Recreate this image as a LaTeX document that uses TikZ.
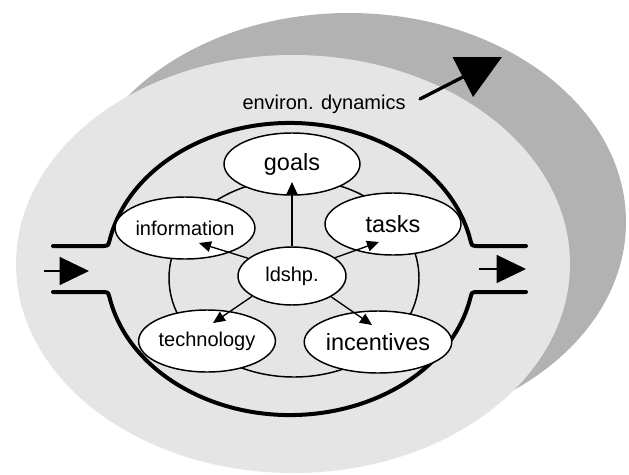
\documentclass[tikz,border=0pt]{standalone}
\usepackage{fontspec}
\setmainfont{Liberation Sans}
\usetikzlibrary{shapes.geometric,arrows.meta}

\tikzset{every picture/.style={line width=0.75pt}}
\definecolor{envlight}{RGB}{229,229,229}
\definecolor{envdark}{RGB}{178,178,178}

\begin{document}
\begin{tikzpicture}[x=0.75pt,y=0.75pt,yscale=-1,xscale=1,
  part/.style={draw,ellipse,fill=white,line width=1.1pt,inner sep=0pt,minimum width=102pt,minimum height=46.5pt,font=\fontsize{17.6}{20}\selectfont},
  smallpart/.style={part,font=\fontsize{15}{18}\selectfont},
  flow/.style={-{Triangle[length=9pt,width=8pt]},line width=1pt},
  pipeflow/.style={-{Triangle[length=22pt,width=21pt]},line width=1pt}
]
\useasboundingbox (0,0) rectangle (629,475);

%Shape: Ellipse [environment, shadow]
\fill [envdark] (349,222) ellipse [x radius=277, y radius=209];
%Shape: Ellipse [environment]
\fill [envlight] (293,264) ellipse [x radius=277, y radius=209];

%Shape: system boundary, upper half with pipes
\draw [line width=3pt, line cap=round] (53,246) -- (104,246) .. controls (108,246) and (109.4,244) .. (109.4,241.1) arc [start angle=191, end angle=349, x radius=184, y radius=146] .. controls (470.6,244) and (472,246) .. (476,246) -- (526,246);
%Shape: system boundary, lower half with pipes
\draw [line width=3pt, line cap=round] (53,292) -- (104,292) .. controls (108,292) and (109.4,294) .. (109.4,296.9) arc [start angle=169, end angle=11, x radius=184, y radius=146] .. controls (470.6,294) and (472,292) .. (476,292) -- (526,292);

%Shape: Ellipse [ring]
\draw [line width=1.1pt] (294,278) ellipse [x radius=125, y radius=99];

% Parts
\node [part] (goals) at (292,164) {goals};
\node [part] (tasks) at (393,224) {tasks};
\node [smallpart] (info) at (185,228) {information};
\node [smallpart] (techn) at (207,341) {technology};
\node [part] (incent) at (378,342) {incentives};
\node [smallpart, minimum width=81pt, minimum height=43.5pt] (ldshp) at (292,276) {ldshp.};

% Arrows from ldshp.
\draw [flow] (ldshp.north) -- ([shift={(0,18)}]goals.center);
\draw [flow] (ldshp.158) -- ([shift={(14,15)}]info.center);
\draw [flow] (ldshp.23) -- ([shift={(-14,18)}]tasks.center);
\draw [flow] (ldshp.207) -- ([shift={(6,-18)}]techn.center);
\draw [flow] (ldshp.332) -- ([shift={(-6,-17)}]incent.center);

% Inlet and outlet
\coordinate (in-a) at (44,271);
\coordinate (in-b) at (89,271);
\coordinate (out-a) at (479,269);
\coordinate (out-b) at (526,269);
\draw [pipeflow] (in-a) -- (in-b);
\draw [pipeflow] (out-a) -- (out-b);

% Text Node
\node [font=\fontsize{15}{18}\selectfont, anchor=base west, inner sep=0pt] (envtext) at (242,109) {environ. dynamics};
\coordinate (env-a) at (420,99);
\coordinate (env-b) at (502,57);
\draw [-{Triangle[length=33pt,width=33pt]}, line width=2.5pt, line cap=round] (env-a) -- (env-b);

\end{tikzpicture}
\end{document}
